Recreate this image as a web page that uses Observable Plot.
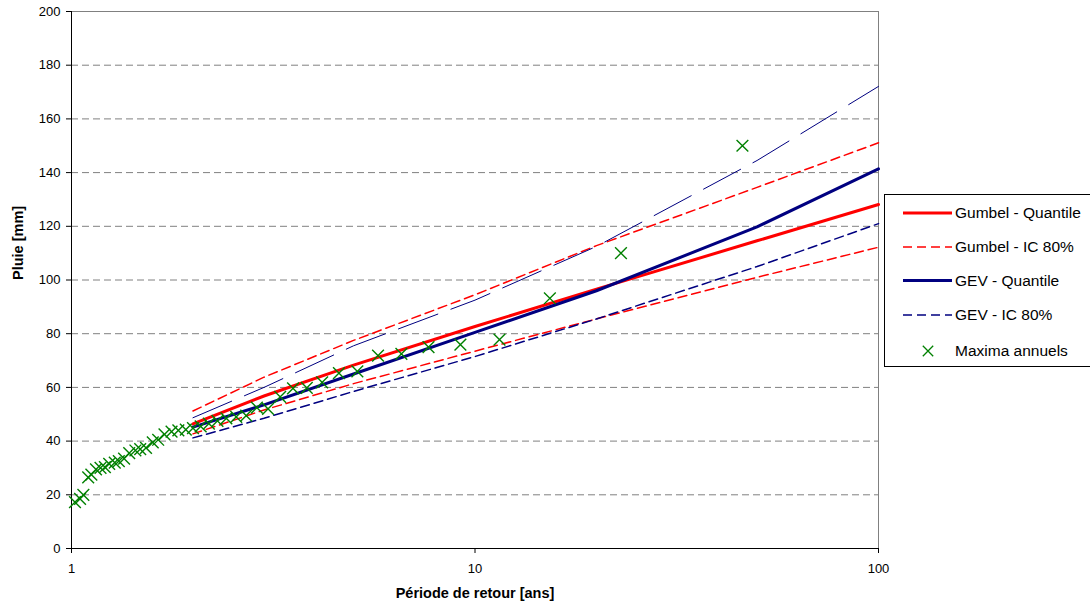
<!DOCTYPE html>
<html>
<head>
<meta charset="utf-8">
<script src="https://cdn.jsdelivr.net/npm/d3@7"></script>
<script src="https://cdn.jsdelivr.net/npm/@observablehq/plot@0.6"></script>
<style>
  html, body { margin: 0; padding: 0; background: white; overflow: hidden; }
  #chart svg { display: block; }
</style>
</head>
<body>
<div id="chart"></div>
<script>
// ---- Data ----
// Empirical return periods of the annual maxima (years)
const periodesMaxima = [46, 23, 15.33, 11.5, 9.2, 7.67, 6.57, 5.75, 5.11, 4.6, 4.18, 3.83, 3.54, 3.29, 3.07,
  2.88, 2.71, 2.56, 2.42, 2.3, 2.19, 2.09, 2.0, 1.92, 1.84, 1.77, 1.7, 1.64, 1.59, 1.53,
  1.48, 1.44, 1.39, 1.35, 1.31, 1.28, 1.24, 1.21, 1.18, 1.15, 1.12, 1.1, 1.07, 1.05, 1.02];
// Annual maxima (mm)
const maximaAnnuels = [150, 110, 93.2, 77.8, 75.9, 75.0, 72.5, 71.8, 66.0, 65.3, 61.9, 59.8, 59.6, 56.5, 52,
  52.5, 49.5, 49, 48.5, 47.5, 46.5, 45.5, 44.8, 44.3, 44, 43.5, 42.5, 40.5, 39.5, 37.5,
  37, 36.5, 35.5, 33.5, 32.5, 32, 31.5, 30.3, 30, 29.5, 27.5, 26.5, 20, 18.5, 17.3];

// Return periods at which the fitted curves are read
const periodesAjust = [2, 3, 5, 10, 20, 50, 100];
const gumbelQuantile = [46.4, 56.8, 68.3, 82.7, 96.6, 114.6, 128.1];
const gumbelICinf    = [42.7, 51.6, 61.4, 73.5, 85.5, 101.0, 112.2];
const gumbelICsup    = [51.2, 63.8, 77.5, 94.5, 112.8, 134.5, 151.1];
const gevQuantile    = [45.2, 53.5, 65.0, 80.5, 96.0, 119.8, 141.4];
const gevICinf       = [41.2, 48.5, 58.5, 71.5, 85.5, 105.0, 121.0];
const gevICsup       = [48.7, 60.0, 75.5, 92.5, 112.5, 144.5, 172.1];

const yTicks = [0, 20, 40, 60, 80, 100, 120, 140, 160, 180, 200];
const xTicks = [1, 10, 100];
const legendLabels = ["Gumbel - Quantile", "Gumbel - IC 80%", "GEV - Quantile", "GEV - IC 80%", "Maxima annuels"];

// ---- Build tables ----
const serie = (vals) => periodesAjust.map((t, i) => ({t, v: vals[i]}));
const points = periodesMaxima.map((t, i) => ({t, v: maximaAnnuels[i]}));

const RED = "#FF0000", NAVY = "#000080", GREEN = "#008000", GRID = "#808080";
const FONT = "'Liberation Sans', Arial, Helvetica, sans-serif";

const chart = Plot.plot({
  width: 1090,
  height: 609,
  marginLeft: 71,
  marginRight: 212,
  marginTop: 11,
  marginBottom: 61,
  style: {fontFamily: FONT, fontSize: "13px", background: "white", color: "black"},
  x: {type: "log", domain: [1, 100]},
  y: {domain: [0, 200]},
  marks: [
    // gridlines
    Plot.ruleY(yTicks.filter(d => d > 0 && d < 200), {stroke: GRID, strokeDasharray: "7,4", strokeWidth: 1}),
    // top & right frame
    Plot.ruleY([200], {stroke: GRID, strokeWidth: 1}),
    Plot.ruleX([100], {stroke: GRID, strokeWidth: 1}),
    // axes
    Plot.axisY({ticks: yTicks, tickSize: 5, tickPadding: 6, label: null, fontSize: 13}),
    Plot.axisX({ticks: xTicks, tickSize: 5, tickPadding: 10, label: null, fontSize: 13, tickFormat: d => String(d)}),
    Plot.ruleX([1], {stroke: "black", strokeWidth: 1}),
    Plot.ruleY([0], {stroke: "black", strokeWidth: 1}),
    // fitted curves
    Plot.line(serie(gumbelQuantile), {x: "t", y: "v", stroke: RED, strokeWidth: 3}),
    Plot.line(serie(gumbelICinf), {x: "t", y: "v", stroke: RED, strokeWidth: 1.5, strokeDasharray: "9,5"}),
    Plot.line(serie(gumbelICsup), {x: "t", y: "v", stroke: RED, strokeWidth: 1.5, strokeDasharray: "9,5"}),
    Plot.line(serie(gevQuantile), {x: "t", y: "v", stroke: NAVY, strokeWidth: 3}),
    Plot.line(serie(gevICinf), {x: "t", y: "v", stroke: NAVY, strokeWidth: 1.5, strokeDasharray: "9,5"}),
    Plot.line(serie(gevICsup), {x: "t", y: "v", stroke: NAVY, strokeWidth: 1, strokeDasharray: "42,14"}),
    // annual maxima
    Plot.dot(points, {x: "t", y: "v", symbol: "times", stroke: GREEN, r: 5.4, strokeWidth: 1.4}),
    // axis titles
    Plot.text(["Pluie [mm]"], {frameAnchor: "left", dx: -53, rotate: -90, fontWeight: "bold", fontSize: 14.5, fill: "black"}),
    Plot.text(["Période de retour [ans]"], {frameAnchor: "bottom", dy: 49, fontWeight: "bold", fontSize: 14.5, fill: "black"})
  ]
});

document.getElementById("chart").appendChild(chart);

// ---- Legend (right side box) ----
const svg = d3.select(chart);
const lg = svg.append("g").attr("font-family", FONT).attr("font-size", 15.5).attr("text-anchor", "start");
lg.append("rect").attr("x", 884.5).attr("y", 194.5).attr("width", 230).attr("height", 172)
  .attr("fill", "white").attr("stroke", "black").attr("stroke-width", 1);
const rowsY = [213, 247, 280.5, 315, 351];
const styles = [
  {stroke: RED, w: 3, dash: null},
  {stroke: RED, w: 1.5, dash: "9,5"},
  {stroke: NAVY, w: 3, dash: null},
  {stroke: NAVY, w: 1.5, dash: "9,5"},
  null
];
legendLabels.forEach((lab, i) => {
  const y = rowsY[i];
  const s = styles[i];
  if (s) {
    lg.append("line").attr("x1", 903).attr("x2", 952).attr("y1", y).attr("y2", y)
      .attr("stroke", s.stroke).attr("stroke-width", s.w).attr("stroke-dasharray", s.dash);
  } else {
    lg.append("path").attr("transform", `translate(928,${y})`)
      .attr("d", d3.symbol(d3.symbolTimes, Math.PI * 4.8 * 4.8)())
      .attr("fill", "none").attr("stroke", GREEN).attr("stroke-width", 1.3);
  }
  lg.append("text").attr("x", 955).attr("y", y).attr("dy", "0.35em")
    .attr("text-anchor", "start").attr("fill", "black").text(lab);
});
</script>
</body>
</html>
